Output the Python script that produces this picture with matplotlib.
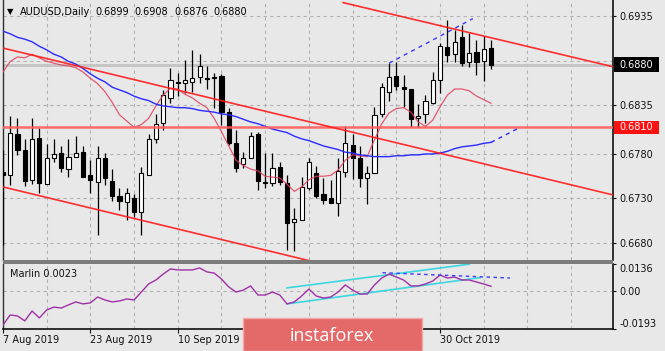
import matplotlib
matplotlib.use('Agg')
import matplotlib.pyplot as plt
import matplotlib.transforms as mtransforms
from matplotlib.patches import Rectangle

# ---------------- data ----------------
symbol = 'AUDUSD,Daily'
opens = [0.6760, 0.6756, 0.6802, 0.6785, 0.6751, 0.6798, 0.6746, 0.6776, 0.6781, 0.6763,
         0.6777, 0.6782, 0.6756, 0.6748, 0.6775, 0.6750, 0.6733, 0.6726, 0.6730, 0.6715,
         0.6756, 0.6797, 0.6815, 0.6843, 0.6861, 0.6860, 0.6861, 0.6866, 0.6865, 0.6866,
         0.6868, 0.6827, 0.6792, 0.6769, 0.6775, 0.6802, 0.6748, 0.6747, 0.6765, 0.6747,
         0.6704, 0.6706, 0.6742, 0.6759, 0.6735, 0.6730, 0.6725, 0.6760, 0.6790, 0.6775,
         0.6753, 0.6759, 0.6825, 0.6850, 0.6868, 0.6855, 0.6853, 0.6820, 0.6825, 0.6837,
         0.6863, 0.6900, 0.6892, 0.6911, 0.6883, 0.6895, 0.6884, 0.6899]
highs = [0.6785, 0.6823, 0.6820, 0.6797, 0.6820, 0.6809, 0.6791, 0.6797, 0.6789, 0.6797,
         0.6800, 0.6789, 0.6773, 0.6789, 0.6781, 0.6763, 0.6742, 0.6742, 0.6735, 0.6765,
         0.6802, 0.6825, 0.6852, 0.6877, 0.6871, 0.6886, 0.6897, 0.6892, 0.6879, 0.6871,
         0.6870, 0.6832, 0.6807, 0.6782, 0.6805, 0.6805, 0.6781, 0.6781, 0.6771, 0.6756,
         0.6719, 0.6754, 0.6776, 0.6767, 0.6753, 0.6751, 0.6776, 0.6811, 0.6802, 0.6789,
         0.6767, 0.6833, 0.6860, 0.6882, 0.6883, 0.6869, 0.6853, 0.6836, 0.6846, 0.6872,
         0.6905, 0.6931, 0.6919, 0.6925, 0.6916, 0.6908, 0.6913, 0.6908]
lows = [0.6678, 0.6745, 0.6779, 0.6744, 0.6746, 0.6736, 0.6746, 0.6771, 0.6760, 0.6754,
        0.6777, 0.6754, 0.6736, 0.6689, 0.6745, 0.6727, 0.6717, 0.6706, 0.6709, 0.6689,
        0.6756, 0.6792, 0.6807, 0.6837, 0.6845, 0.6849, 0.6850, 0.6860, 0.6853, 0.6832,
        0.6813, 0.6790, 0.6760, 0.6764, 0.6775, 0.6740, 0.6742, 0.6744, 0.6745, 0.6672,
        0.6671, 0.6706, 0.6740, 0.6730, 0.6724, 0.6725, 0.6710, 0.6754, 0.6752, 0.6743,
        0.6724, 0.6759, 0.6822, 0.6840, 0.6852, 0.6833, 0.6810, 0.6810, 0.6815, 0.6836,
        0.6849, 0.6883, 0.6883, 0.6879, 0.6878, 0.6869, 0.6862, 0.6876]
closes = [0.6756, 0.6804, 0.6785, 0.6750, 0.6797, 0.6747, 0.6775, 0.6780, 0.6764, 0.6777,
          0.6781, 0.6754, 0.6751, 0.6775, 0.6753, 0.6733, 0.6727, 0.6736, 0.6715, 0.6759,
          0.6797, 0.6814, 0.6846, 0.6863, 0.6860, 0.6863, 0.6865, 0.6879, 0.6864, 0.6865,
          0.6827, 0.6792, 0.6764, 0.6776, 0.6800, 0.6750, 0.6747, 0.6764, 0.6748, 0.6702,
          0.6707, 0.6743, 0.6771, 0.6733, 0.6728, 0.6725, 0.6761, 0.6792, 0.6776, 0.6753,
          0.6759, 0.6824, 0.6855, 0.6866, 0.6856, 0.6853, 0.6819, 0.6823, 0.6840, 0.6863,
          0.6901, 0.6891, 0.6906, 0.6882, 0.6893, 0.6883, 0.6898, 0.6880]

ma_fast = [0.6872, 0.6884, 0.6889, 0.6888, 0.6892, 0.6888, 0.6884, 0.6882, 0.6880, 0.6879,
           0.6877, 0.6872, 0.6865, 0.6859, 0.6850, 0.6838, 0.6824, 0.6817, 0.6810, 0.6813,
           0.6820, 0.6834, 0.6846, 0.6854, 0.6853, 0.6847, 0.6843, 0.6837, 0.6832, 0.6820,
           0.6805, 0.6789, 0.6773, 0.6767, 0.6763, 0.6761, 0.6755, 0.6754, 0.6753, 0.6746,
           0.6738, 0.6743, 0.6751, 0.6755, 0.6755, 0.6756, 0.6762, 0.6773, 0.6779, 0.6778,
           0.6777, 0.6796, 0.6814, 0.6826, 0.6831, 0.6832, 0.6827, 0.6816, 0.6811, 0.6818,
           0.6833, 0.6846, 0.6853, 0.6853, 0.6851, 0.6845, 0.6841, 0.6837]
ma_slow = [0.6918, 0.6915, 0.6911, 0.6909, 0.6906, 0.6901, 0.6897, 0.6892, 0.6889, 0.6884,
           0.6881, 0.6876, 0.6870, 0.6865, 0.6861, 0.6855, 0.6852, 0.6849, 0.6845, 0.6842,
           0.6840, 0.6836, 0.6834, 0.6833, 0.6832, 0.6832, 0.6831, 0.6829, 0.6828, 0.6827,
           0.6825, 0.6824, 0.6822, 0.6819, 0.6816, 0.6814, 0.6811, 0.6808, 0.6806, 0.6804,
           0.6800, 0.6797, 0.6795, 0.6792, 0.6789, 0.6787, 0.6785, 0.6782, 0.6781, 0.6779,
           0.6778, 0.6777, 0.6777, 0.6777, 0.6778, 0.6778, 0.6779, 0.6779, 0.6780, 0.6780,
           0.6781, 0.6783, 0.6786, 0.6788, 0.6789, 0.6790, 0.6792, 0.6793]
marlin = [-0.0173, -0.0122, -0.0127, -0.0152, -0.0102, -0.0137, -0.0097, -0.0082, -0.0087, -0.0071,
          -0.0056, -0.0066, -0.0061, -0.0031, -0.0046, -0.0056, -0.0051, -0.0041, -0.0046, -0.0006,
          0.0035, 0.0055, 0.0085, 0.0111, 0.0106, 0.0106, 0.0106, 0.0116, 0.0096, 0.0090,
          0.0060, 0.0020, -0.0006, 0.0004, 0.0025, -0.0021, -0.0021, -0.0006, -0.0021, -0.0066,
          -0.0056, -0.0026, 0.0009, -0.0026, -0.0036, -0.0031, -0.0006, 0.0030, 0.0004, -0.0016,
          -0.0016, 0.0030, 0.0065, 0.0085, 0.0070, 0.0055, 0.0025, 0.0025, 0.0035, 0.0050,
          0.0080, 0.0065, 0.0070, 0.0055, 0.0055, 0.0045, 0.0035, 0.0023]

date_ticks = [0, 12, 24, 36, 48, 60]
# labels at 36 and 48 sit under the logo in the reference and are not visible
date_labels = ['7 Aug 2019', '23 Aug 2019', '10 Sep 2019', '', '', '30 Oct 2019']
price_ticks = [0.6935, 0.6885, 0.6835, 0.6780, 0.6730, 0.6680]
price_tick_labels = ['0.6935', '', '0.6835', '0.6780', '0.6730', '0.6680']  # 0.6885 hidden by bid box
marlin_ticks = [0.0136, 0.0, -0.0193]
marlin_tick_labels = ['0.0136', '0.00', '-0.0193']
level_price = 0.6810

# drawn objects: (bar index, value) anchor pairs
channel_upper = [(0, 0.6899), (83.74, 0.6734)]
channel_lower = [(0, 0.6743), (83.74, 0.6578)]
top_line = [(46.7, 0.6950), (83.74, 0.6878)]
blue_dash_main = [(53, 0.6882), (64.5, 0.6932)]
ma_slow_ext = [(67, 0.6793), (71.0, 0.6810)]
cyan_upper = [(39.0, 0.0015), (64.0, 0.0135)]
cyan_lower = [(39.0, -0.0066), (65.5, 0.0067)]
blue_dot_sub = [(52.1, 0.0092), (69.6, 0.0065)]

# ---------------- layout ----------------
W, H = 665, 351
BG = '#e8e8e8'
GRID = '#b2b2b2'
plt.rcParams['font.family'] = ['DejaVu Sans']

fig = plt.figure(figsize=(W / 100, H / 100), dpi=100, facecolor=BG)
L = 2.7 / W
Wd = (613 - 2.7) / W
ax1 = fig.add_axes([L, 1 - 260 / H, Wd, 260 / H], facecolor=BG)
ax2 = fig.add_axes([L, 1 - 329 / H, Wd, 65 / H], facecolor=BG)

XMIN, XMAX = -0.03, 83.74
for ax in (ax1, ax2):
    ax.set_xlim(XMIN, XMAX)
    for k in range(6, 84, 6):
        ax.axvline(k, color=GRID, lw=0.8, ls=(0, (3, 3)), zorder=1)

ax1.set_ylim(0.666090, 0.695297)
ax2.set_ylim(-0.0193, 0.0136)

# grids
for p in price_ticks:
    ax1.axhline(p, color=GRID, lw=0.8, ls=(0, (3, 3)), zorder=1)
ax2.axhline(0.0, color=GRID, lw=0.8, ls=(0, (3, 3)), zorder=1)

# bid line & level line
ax1.axhline(closes[-1], color='#c4c4c4', lw=2.0, zorder=2)
ax1.axhline(level_price, color='#ff5c5c', lw=1.8, alpha=0.9, zorder=6)

# candles
n = len(opens)
bw = 0.58
for i in range(n):
    o, h, l, c = opens[i], highs[i], lows[i], closes[i]
    ax1.vlines(i, l, h, color='black', lw=0.9, zorder=3)
    bull = c > o
    lo = min(o, c)
    ht = max(abs(c - o), 0.00001)
    ax1.add_patch(Rectangle((i - bw / 2, lo), bw, ht, facecolor='white' if bull else 'black',
                            edgecolor='black', lw=0.8, zorder=4))

idx = list(range(n))
ax1.plot(idx, ma_fast, color='#e0405e', lw=0.9, alpha=0.85, zorder=5)
ax1.plot(idx, ma_slow, color='#2a2aff', lw=1.0, zorder=5)
ax1.plot([p[0] for p in ma_slow_ext], [p[1] for p in ma_slow_ext], color='#2a2aff', lw=1.0,
         ls=(0, (3, 3)), zorder=5)

def seg(ax, pts, **kw):
    ax.plot([p[0] for p in pts], [p[1] for p in pts], **kw)

seg(ax1, channel_upper, color='#ff1a1a', lw=1.2, alpha=0.9, zorder=6)
seg(ax1, channel_lower, color='#ff1a1a', lw=1.2, alpha=0.9, zorder=6)
seg(ax1, top_line, color='#ff1a1a', lw=1.2, alpha=0.9, zorder=6)
seg(ax1, blue_dash_main, color='#3a3aff', lw=1.0, ls=(0, (3, 3)), zorder=6)

# Marlin panel
ax2.plot(idx, marlin, color='#a030a8', lw=1.0, zorder=5)
seg(ax2, cyan_upper, color='#3cd6e0', lw=1.2, zorder=4)
seg(ax2, cyan_lower, color='#3cd6e0', lw=1.2, zorder=4)
seg(ax2, blue_dot_sub, color='#3a3aff', lw=1.0, ls=(0, (2.5, 2.5)), zorder=6)
ax2.text(7 / 610.3, 0.84, f'Marlin {marlin[-1]:.4f}', transform=ax2.transAxes,
         fontsize=7, va='center', ha='left', color='#111111')

# spines
for ax in (ax1, ax2):
    ax.spines['top'].set_visible(False)
    ax.spines['left'].set_color('#303030')
    ax.spines['right'].set_color('#111111')
    ax.spines['left'].set_linewidth(1.0)
    ax.spines['right'].set_linewidth(1.2)
ax1.spines['bottom'].set_visible(False)
ax2.spines['bottom'].set_color('#111111')
ax2.spines['bottom'].set_linewidth(1.2)

# separator band
fig.patches.append(Rectangle((L, 1 - 264 / H), Wd, 4 / H, transform=fig.transFigure,
                             facecolor='#7c7c7c', edgecolor='none', zorder=3))

# ticks
ax1.set_xticks([])
ax1.yaxis.tick_right()
ax1.set_yticks(price_ticks)
ax1.set_yticklabels(price_tick_labels)
ax1.tick_params(axis='y', direction='out', length=2.5, pad=2, labelsize=7, colors='#111111')

ax2.yaxis.tick_right()
ax2.set_yticks(marlin_ticks)
ax2.set_yticklabels(marlin_tick_labels)
ax2.tick_params(axis='y', direction='out', length=2.5, pad=2, labelsize=7, colors='#111111')
labs = ax2.get_yticklabels()
labs[0].set_va('top')
labs[-1].set_va('bottom')

ax2.set_xticks(date_ticks)
ax2.set_xticklabels(date_labels)
ax2.tick_params(axis='x', direction='out', length=3, pad=1, labelsize=7, colors='#111111')
for t in ax2.get_xticklabels():
    t.set_ha('left')

# right-side price boxes
btr = mtransforms.blended_transform_factory(ax1.transAxes, ax1.transData)
px = 8902.0
for price, fc, hpx in [(closes[-1], 'black', 15), (level_price, '#ff1010', 12.5)]:
    ax1.add_patch(Rectangle((1.0018, price - hpx / 2 / px), 45 / 610.3, hpx / px, transform=btr,
                            facecolor=fc, edgecolor='none', clip_on=False, zorder=20))
    ax1.text((619 - 2.7) / 610.3, price, f'{price:.4f}', transform=btr, color='white',
             fontsize=7, va='center', ha='left', clip_on=False, zorder=21)

# header
fig.text(7 / W, 1 - 11.5 / H, '\u25BC', fontsize=6, va='center', ha='left', color='black')
fig.text(20 / W, 1 - 12 / H, symbol, fontsize=7, va='center', ha='left', color='black')
for xx, v in zip([95, 134, 174, 213], [opens[-1], highs[-1], lows[-1], closes[-1]]):
    fig.text(xx / W, 1 - 12 / H, f'{v:.4f}', fontsize=7, va='center', ha='left', color='black')

# logo
fig.patches.append(Rectangle((243 / W, 0), 179 / W, 33 / H, transform=fig.transFigure,
                             facecolor='#e46a6a', edgecolor='#f2a8a8', lw=1.0, zorder=10))
fig.text(332 / W, 1 - 336 / H, 'instaforex', fontsize=13, family=['Open Sans', 'DejaVu Sans'],
         color='white', ha='center', va='center', zorder=11)

fig.savefig('out.png', dpi=100, facecolor=BG)
